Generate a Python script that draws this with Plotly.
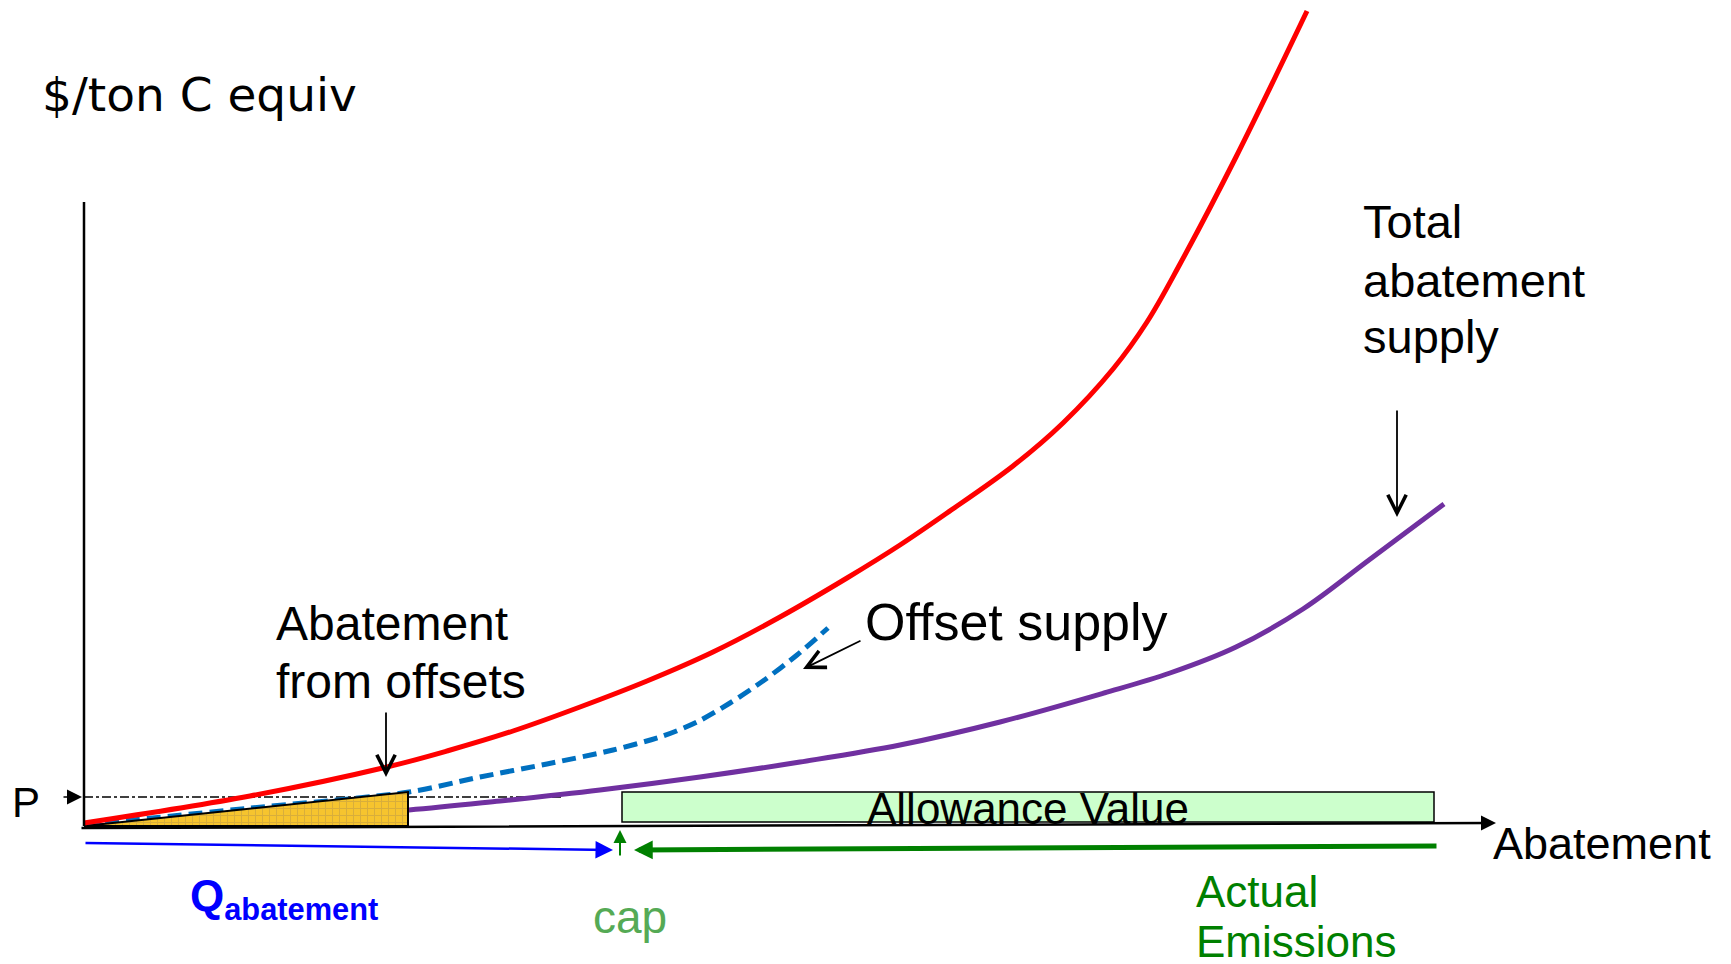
import plotly.graph_objects as go

# ---------------- data (x: abatement, y: $/ton C equiv) ----------------
domestic_x = [0, 16.6, 30.3, 36.3, 42.9, 49.6, 56.3, 62.9, 69.6, 76.3, 81.6, 86.3,
              92.9, 97.9, 102.9, 106.3, 109.6, 115.2, 122.3]
domestic_y = [0.3, 3.0, 5.9, 7.5, 9.5, 11.9, 14.5, 17.4, 20.9, 24.8, 28.1, 31.3,
              36.0, 40.3, 45.7, 50.4, 56.2, 66.9, 81.5]

offset_x = [0, 16.2, 32.5, 39.6, 46.3, 52.9, 57.9, 61.3, 64.6, 67.9, 71.3, 74.4]
offset_y = [0.1, 1.75, 3.4, 4.9, 6.2, 7.6, 9.0, 10.4, 12.3, 14.5, 17.1, 19.8]

total_x = [0, 11.6, 21.6, 32.5, 41.6, 51.6, 61.6, 71.6, 81.6, 91.6, 102.0,
           108.6, 115.2, 121.9, 128.5, 136.0]
total_y = [0, 0.4, 0.9, 1.6, 2.5, 3.6, 4.9, 6.4, 8.1, 10.4, 13.3,
           15.3, 17.9, 21.7, 26.6, 32.2]

price_p = 2.9          # P (market price)
q_offsets = 32.4       # abatement from offsets
offset_top = 3.4       # height of offsets triangle / allowance box
cap = 53.8             # cap position
emissions_end = 135.0  # actual emissions (right end)
axis_end = 141.2
yaxis_top = 62.4

W, H = 1731, 964
X0, Y0, SC = 84, 826, 10.0   # origin in pixels, pixels per unit


def X(px):
    return (px - X0) / SC


def Y(py):
    return (Y0 - py) / SC


fig = go.Figure()

# total abatement supply (purple)
fig.add_trace(go.Scatter(x=total_x, y=total_y, mode="lines",
                         line=dict(color="#7030A0", width=5, shape="spline", smoothing=1.0),
                         hoverinfo="skip"))
# offset supply (blue dashed)
fig.add_trace(go.Scatter(x=offset_x, y=offset_y, mode="lines",
                         line=dict(color="#0070C0", width=5, dash="14px,7px",
                                   shape="spline", smoothing=0.8),
                         hoverinfo="skip"))
# abatement from offsets (yellow triangle)
fig.add_trace(go.Scatter(x=[0, q_offsets, q_offsets, 0], y=[0, 0, offset_top, 0],
                         mode="lines", fill="toself", fillcolor="#F6C42E",
                         fillpattern=dict(shape="+", fgcolor="#B8954A", bgcolor="#F6C42E",
                                          size=7, solidity=0.25),
                         line=dict(color="black", width=2), hoverinfo="skip"))
# domestic abatement supply (red)
fig.add_trace(go.Scatter(x=domestic_x, y=domestic_y, mode="lines",
                         line=dict(color="#FF0000", width=5, shape="spline", smoothing=1.0),
                         hoverinfo="skip"))

shapes = [
    # price line
    dict(type="line", x0=0, x1=48.0, y0=price_p, y1=price_p,
         line=dict(color="black", width=1.5, dash="dashdot"), layer="below"),
    # allowance value box
    dict(type="rect", x0=cap, x1=emissions_end, y0=0.4, y1=offset_top,
         fillcolor="#CCFFCC", line=dict(color="black", width=1.5), layer="below"),
    # y axis
    dict(type="line", x0=0, x1=0, y0=0, y1=yaxis_top,
         line=dict(color="black", width=2.5)),
]

annotations = []


def arrow(x_tail, y_tail, x_tip, y_tip, color="black", width=1.5, head=2, size=1.0):
    annotations.append(dict(x=x_tip, y=y_tip, ax=x_tail, ay=y_tail,
                            xref="x", yref="y", axref="x", ayref="y",
                            text="", showarrow=True, arrowhead=head,
                            arrowsize=size, arrowwidth=width, arrowcolor=color,
                            standoff=0, startstandoff=0))


def label(text, px, py, size, color="black", family="Liberation Sans, Arial, sans-serif",
          xanchor="left", yanchor="middle"):
    annotations.append(dict(x=px / W, y=1 - py / H, xref="paper", yref="paper",
                            text=text, showarrow=False, xanchor=xanchor, yanchor=yanchor,
                            borderpad=0,
                            font=dict(size=size, color=color, family=family)))


# x axis with arrow
arrow(-0.4, -0.2, axis_end, 0.3, width=2.5, head=2, size=1.2)
# P marker arrow
arrow(X(62), price_p, X(82), price_p, width=1.5, head=2, size=2.0)
# Q abatement (blue)
arrow(0, Y(843), cap - 0.9, Y(850), color="#0000FF", width=2.5, head=2, size=1.4)
# cap marker (small green up arrow)
arrow(cap - 0.2, Y(857), cap - 0.2, Y(830), color="#008000", width=2, head=2, size=1.3)
# actual emissions (green, pointing left)
arrow(emissions_end + 0.4, Y(846), cap + 1.2, Y(850), color="#008000", width=5, head=2, size=0.75)
# callout arrows
arrow(X(386), Y(711), X(386), Y(777), width=1.8, head=5, size=2.0)
arrow(X(1397), Y(409), X(1397), Y(517), width=1.8, head=5, size=2.0)
arrow(X(862), Y(640), X(803), Y(669), width=1.8, head=5, size=2.0)

# text labels
label("$/ton C equiv", 41, 95, 47, family="DejaVu Sans, sans-serif")
label("Total", 1362, 222, 47)
label("abatement", 1362, 280, 47)
label("supply", 1362, 336, 47)
label("Abatement", 275, 623, 48)
label("from offsets", 275, 681, 48)
label("Offset supply", 864, 622, 52)
label("Allowance Value", 1028, 808, 44, xanchor="center")
label("Abatement", 1492, 843, 45)
label("P", 11, 802, 42)
label("<b>Q<sub>abatement</sub></b>", 189, 899, 44, color="#0000FF")
label("cap", 592, 917, 46, color="#55AA55")
label("Actual", 1195, 891, 44, color="#008000")
label("Emissions", 1195, 941, 44, color="#008000")

fig.update_layout(
    width=W, height=H,
    margin=dict(l=0, r=0, t=0, b=0),
    paper_bgcolor="white", plot_bgcolor="white",
    showlegend=False,
    shapes=shapes, annotations=annotations,
    xaxis=dict(range=[X(0), X(W)], visible=False, fixedrange=True),
    yaxis=dict(range=[Y(H), Y(0)], visible=False, fixedrange=True),
)

fig.write_html(
    "out.html",
    config={"displayModeBar": False},
    post_script="document.body.style.margin='0px';"
                "document.documentElement.style.overflow='hidden';"
                "document.body.style.overflow='hidden';",
)
